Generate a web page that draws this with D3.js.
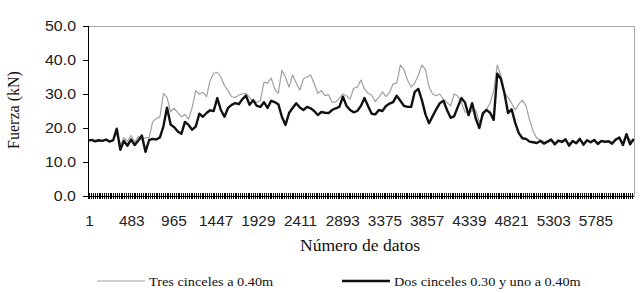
<!DOCTYPE html>
<html>
<head>
<meta charset="utf-8">
<script src="https://cdn.jsdelivr.net/npm/d3@7/dist/d3.min.js"></script>
<style>
  html, body { margin: 0; padding: 0; background: #fff; }
  svg { display: block; }
</style>
</head>
<body>
<svg id="chart" width="643" height="293"></svg>
<script>
const totalPoints = 6236;
const sampleStep = 41;
const xTickLabels = [1, 483, 965, 1447, 1929, 2411, 2893, 3375, 3857, 4339, 4821, 5303, 5785];
const yTicks = [0, 10, 20, 30, 40, 50];
const seriesNames = ["Tres cinceles a 0.40m", "Dos cinceles 0.30 y uno a 0.40m"];

const tres = [
  16.3,16.4,16.2,16.3,16.2,16.5,16.1,16.3,18.5,15.0,
  17.2,16.0,17.8,15.8,17.5,16.5,17.2,17.0,21.8,22.8,
  23.2,30.2,29.0,24.8,25.8,24.5,23.3,24.0,22.6,26.0,
  31.0,30.0,30.5,29.2,34.0,36.1,36.4,35.0,32.5,31.0,
  29.2,29.0,29.7,30.0,30.2,29.0,27.8,27.6,28.0,33.5,
  33.2,34.7,31.5,30.2,37.0,35.0,32.0,35.6,33.2,31.2,
  34.5,35.0,35.6,33.0,30.2,31.0,29.5,29.8,27.6,27.6,
  28.8,30.0,29.5,28.5,31.7,32.0,34.1,31.5,30.2,29.7,
  27.8,29.0,30.6,29.2,30.5,33.0,33.2,38.5,37.2,34.1,
  32.0,33.2,35.5,38.5,37.2,32.0,30.0,29.5,30.0,28.4,
  27.5,26.5,30.0,29.4,27.5,24.7,24.4,25.0,25.3,21.8,
  23.5,25.5,27.3,31.0,38.5,35.5,30.2,29.0,27.3,25.3,
  27.0,28.2,26.5,22.4,19.0,17.0,16.5,16.0,15.8,16.2,
  15.6,16.0,16.4,16.1,15.5,16.0,15.8,16.3,15.6,16.2,
  15.9,16.4,15.7,16.0,16.2,15.8,16.0,16.3,16.8,15.5,
  17.8,16.5,16.0
];
const dos = [
  16.3,16.5,16.1,16.4,16.2,16.6,16.0,16.4,19.8,13.6,
  16.2,14.8,16.6,15.0,16.3,17.8,13.0,16.4,16.8,16.6,
  17.2,20.5,26.0,21.0,20.2,19.0,18.3,21.8,20.9,19.5,
  20.4,24.2,23.3,24.4,25.2,25.0,28.8,25.3,23.3,25.9,
  26.8,27.3,27.0,28.5,29.5,26.8,28.2,26.5,26.2,27.6,
  25.9,28.0,27.6,27.0,23.3,20.9,24.4,25.9,27.3,26.0,
  25.3,26.2,25.8,25.0,23.8,24.7,24.5,24.4,25.3,25.8,
  26.2,29.2,26.5,25.3,24.6,25.0,26.5,28.8,26.5,24.2,
  24.0,25.3,25.0,26.5,27.2,27.6,29.5,28.0,26.5,26.2,
  26.2,30.6,31.5,28.2,24.0,21.4,23.5,25.5,27.3,28.0,
  25.3,23.0,23.5,26.2,28.8,27.5,23.8,27.3,22.8,20.0,
  24.4,25.3,24.5,22.4,36.0,34.5,30.2,24.4,25.5,21.5,
  18.5,17.0,16.8,16.0,15.8,15.6,16.2,15.4,16.0,16.6,
  15.2,16.3,15.9,16.7,14.8,16.2,15.5,16.8,15.1,16.4,
  15.8,16.5,15.3,16.2,15.9,16.1,15.4,16.6,17.2,15.0,
  18.2,15.2,16.8
];

// ---- layout ----
const svg = d3.select("#chart");
const L = 88, R = 634, T = 26, B = 196;
const sx = 1.1; // horizontal stretch of the original picture's text

const x = d3.scaleLinear().domain([0.5, totalPoints + 0.5]).range([L, R]);
const y = d3.scaleLinear().domain([0, 50]).range([B, T]);

// plot frame (gray)
svg.append("rect")
  .attr("x", L).attr("y", T).attr("width", R - L).attr("height", B - T)
  .attr("fill", "none").attr("stroke", "#a8a8a8").attr("stroke-width", 1)
  .attr("shape-rendering", "crispEdges");

// series
const line = d3.line()
  .x((d, i) => x(1 + i * sampleStep))
  .y(d => y(d));

svg.append("path").datum(tres)
  .attr("fill", "none").attr("stroke", "#a0a0a0").attr("stroke-width", 1.2)
  .attr("stroke-linejoin", "round").attr("d", line);
svg.append("path").datum(dos)
  .attr("fill", "none").attr("stroke", "#111").attr("stroke-width", 2.4)
  .attr("stroke-linejoin", "round").attr("d", line);

// y axis
const yAxis = svg.append("g");
yAxis.append("line").attr("x1", L).attr("x2", L).attr("y1", T).attr("y2", B)
  .attr("stroke", "#000").attr("shape-rendering", "crispEdges");
yAxis.selectAll("line.tk").data(yTicks).join("line").attr("class", "tk")
  .attr("x1", L - 5).attr("x2", L).attr("y1", d => y(d)).attr("y2", d => y(d))
  .attr("stroke", "#000").attr("shape-rendering", "crispEdges");
yAxis.selectAll("text").data(yTicks).join("text")
  .attr("transform", d => `translate(76,${y(d) + 5}) scale(${sx},1)`)
  .attr("text-anchor", "end")
  .attr("font-family", "Liberation Sans, Arial, sans-serif")
  .attr("font-size", 14.5).attr("fill", "#222")
  .text(d => d3.format(".1f")(d));

// x axis
const xAxis = svg.append("g");
xAxis.append("line").attr("x1", L).attr("x2", R).attr("y1", B).attr("y2", B)
  .attr("stroke", "#000").attr("shape-rendering", "crispEdges");
const minorTicks = d3.range(1, totalPoints + 1, 21);
xAxis.selectAll("line.tk").data(minorTicks).join("line").attr("class", "tk")
  .attr("x1", d => x(d)).attr("x2", d => x(d)).attr("y1", B - 3).attr("y2", B + 3)
  .attr("stroke", "#000").attr("stroke-width", 1).attr("shape-rendering", "crispEdges");
xAxis.selectAll("text").data(xTickLabels).join("text")
  .attr("transform", d => `translate(${x(d) + 1.5},226) scale(${sx},1)`)
  .attr("text-anchor", "middle")
  .attr("font-family", "Liberation Sans, Arial, sans-serif")
  .attr("font-size", 14).attr("fill", "#222")
  .text(d => d);

// axis titles
svg.append("text")
  .attr("transform", `translate(360,251) scale(${sx},1)`)
  .attr("text-anchor", "middle")
  .attr("font-family", "Liberation Serif, Times New Roman, serif")
  .attr("font-size", 16).attr("fill", "#111")
  .text("Número de datos");
svg.append("text")
  .attr("transform", "translate(19,110) rotate(-90)")
  .attr("text-anchor", "middle")
  .attr("font-family", "Liberation Serif, Times New Roman, serif")
  .attr("font-size", 16).attr("fill", "#111")
  .text("Fuerza (kN)");

// legend
const legend = svg.append("g");
const legendItems = [
  { name: seriesNames[0], x1: 97, x2: 145, color: "#a0a0a0", w: 1.2 },
  { name: seriesNames[1], x1: 342, x2: 390, color: "#111", w: 2.4 }
];
legendItems.forEach(it => {
  legend.append("line").attr("x1", it.x1).attr("x2", it.x2).attr("y1", 281).attr("y2", 281)
    .attr("stroke", it.color).attr("stroke-width", it.w);
  legend.append("text")
    .attr("transform", `translate(${it.x2 + 4},286) scale(1.06,1)`)
    .attr("font-family", "Liberation Serif, Times New Roman, serif")
    .attr("font-size", 13.5).attr("fill", "#111")
    .text(it.name);
});
</script>
</body>
</html>
